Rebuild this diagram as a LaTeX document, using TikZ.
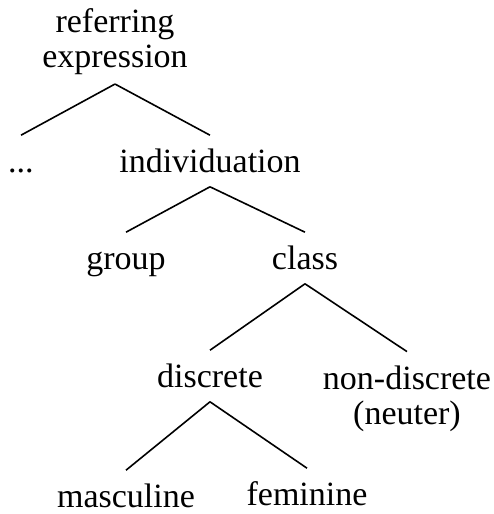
\documentclass[tikz,border=0pt]{standalone}
\usepackage{fontspec}
\setmainfont{Liberation Serif}
\begin{document}
\begin{tikzpicture}[x=1pt,y=-1pt,line width=1.6pt,
    lab/.style={anchor=base,inner xsep=0pt,inner ysep=7pt,text height=29pt,text depth=7pt,
      font=\fontsize{34}{36}\selectfont},
    multi/.style={anchor=base,align=center,inner xsep=0pt,font=\fontsize{34}{35}\selectfont}]
        \useasboundingbox (0,0) rectangle (494,514);
        % labels
        \node[multi,inner ysep=9pt] (root) at (115,67) {referring\\expression};
        \node[lab] (dots) at (21,172) {...};
        \node[lab] (ind) at (210,172) {individuation};
        \node[lab] (grp) at (126,269) {group};
        \node[lab] (cls) at (305,269) {class};
        \node[lab] (dsc) at (210,387) {discrete};
        \node[multi,inner ysep=13pt] (ndsc) at (407,424) {non-discrete\\(neuter)};
        \node[lab] (masc) at (126,507) {masculine};
        \node[lab] (fem) at (307,505) {feminine};
        % branches
        \draw (root.south)--(dots.north);
        \draw (root.south)--(ind.north);
        \draw (ind.south)--(grp.north);
        \draw (ind.south)--(cls.north);
        \draw (cls.south)--(dsc.north);
        \draw (cls.south)--(ndsc.north);
        \draw (dsc.south)--(masc.north);
        \draw (dsc.south)--(fem.north);
    \end{tikzpicture}
\end{document}
